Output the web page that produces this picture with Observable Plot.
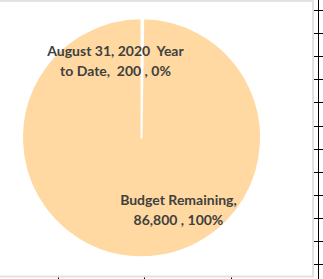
<!DOCTYPE html>
<html><head><meta charset="utf-8">
<script src="https://cdn.jsdelivr.net/npm/d3@7"></script>
<script src="https://cdn.jsdelivr.net/npm/@observablehq/plot@0.6"></script>
<style>
  html,body{margin:0;padding:0;background:#fff;}
  svg text{white-space:pre;}
</style>
</head><body><div id="chart"></div>
<script>
// ---- data ----
const categories = ["August 31, 2020  Year to Date", "Budget Remaining"];
const values = [200, 86800];

// ---- derived ----
const total = d3.sum(values);
const percents = values.map(v => Math.round(v / total * 100) + "%");
const acct = v => " " + d3.format(",")(v) + " ";   // accounting-style padding
const FONT = "bold 14px Lato";
const ctx = document.createElement("canvas").getContext("2d");
ctx.font = FONT;
function wrap(text, maxW) {
  const tokens = text.split(" ");
  const lines = [];
  let line = "";
  for (const t of tokens) {
    const cand = line === "" ? t : line + " " + t;
    if (line.trim() !== "" && t !== "" && ctx.measureText(cand.trimEnd()).width > maxW) {
      lines.push(line.trim());
      line = t;
    } else line = cand;
  }
  lines.push(line.trim());
  return lines.join("\n");
}
const arcs = d3.pie().sort(null).value(d => d)(values);
const slices = categories.map((c, i) => ({
  category: c,
  value: values[i],
  arc: arcs[i],
  label: wrap(`${c}, ${acct(values[i])}, ${percents[i]}`, 145)
}));

// label placement (layout, in pie-radius units)
const labelPos = [[-0.222, 0.661], [0.305, -0.586]];
const labelData = slices.map((s, i) => ({label: s.label, x: labelPos[i][0], y: labelPos[i][1]}));

// pie slices drawn through Plot's x/y scales
function pieMark(index, scales) {
  const cx = scales.x(0), cy = scales.y(0);
  const r = scales.x(1) - scales.x(0);
  const arc = d3.arc().innerRadius(0).outerRadius(r);
  const g = d3.create("svg:g").attr("transform", `translate(${cx},${cy})`);
  g.selectAll("path").data(slices).join("path")
    .attr("d", d => arc(d.arc))
    .attr("fill", "#FFD9A1")
    .attr("stroke", "#ffffff")
    .attr("stroke-width", 2)
    .attr("stroke-linejoin", "round");
  return g.node();
}

// chart-area border and neighbouring axis fragments
function frameMark(index, scales, values, dims) {
  const {width, height} = dims;
  const g = d3.create("svg:g");
  g.append("path").attr("d", `M0,1H313V276.5H0`).attr("fill", "none")
    .attr("stroke", "#e2e2e2").attr("stroke-width", 2);
  g.append("line").attr("x1", 318.5).attr("x2", 318.5).attr("y1", 0).attr("y2", height)
    .attr("stroke", "#000");
  for (let i = 0; i < 12; i++) {
    const y = Math.round(10 + i * 23.1) + 0.5;
    g.append("line").attr("x1", 314).attr("x2", width).attr("y1", y).attr("y2", y).attr("stroke", "#000");
  }
  for (let i = 0; i < 3; i++) {
    const x = Math.round(57.7 + i * 86.7) + 0.5;
    g.append("line").attr("x1", x).attr("x2", x).attr("y1", 277.5).attr("y2", height).attr("stroke", "#000");
  }
  return g.node();
}

const chart = Plot.plot({
  width: 323,
  height: 279,
  margin: 0,
  x: {domain: [-1, 1], range: [22, 261], axis: null},
  y: {domain: [-1, 1], range: [257.3, 18.3], axis: null},
  style: {background: "#fff", overflow: "visible"},
  marks: [
    frameMark,
    pieMark,
    Plot.text(labelData, {
      x: "x", y: "y", text: "label",
      fontFamily: "Lato", fontSize: 14, fontWeight: "bold",
      fill: "#404040", lineHeight: 1.43, textAnchor: "middle"
    })
  ]
});
document.getElementById("chart").append(chart);
</script>
</body></html>
